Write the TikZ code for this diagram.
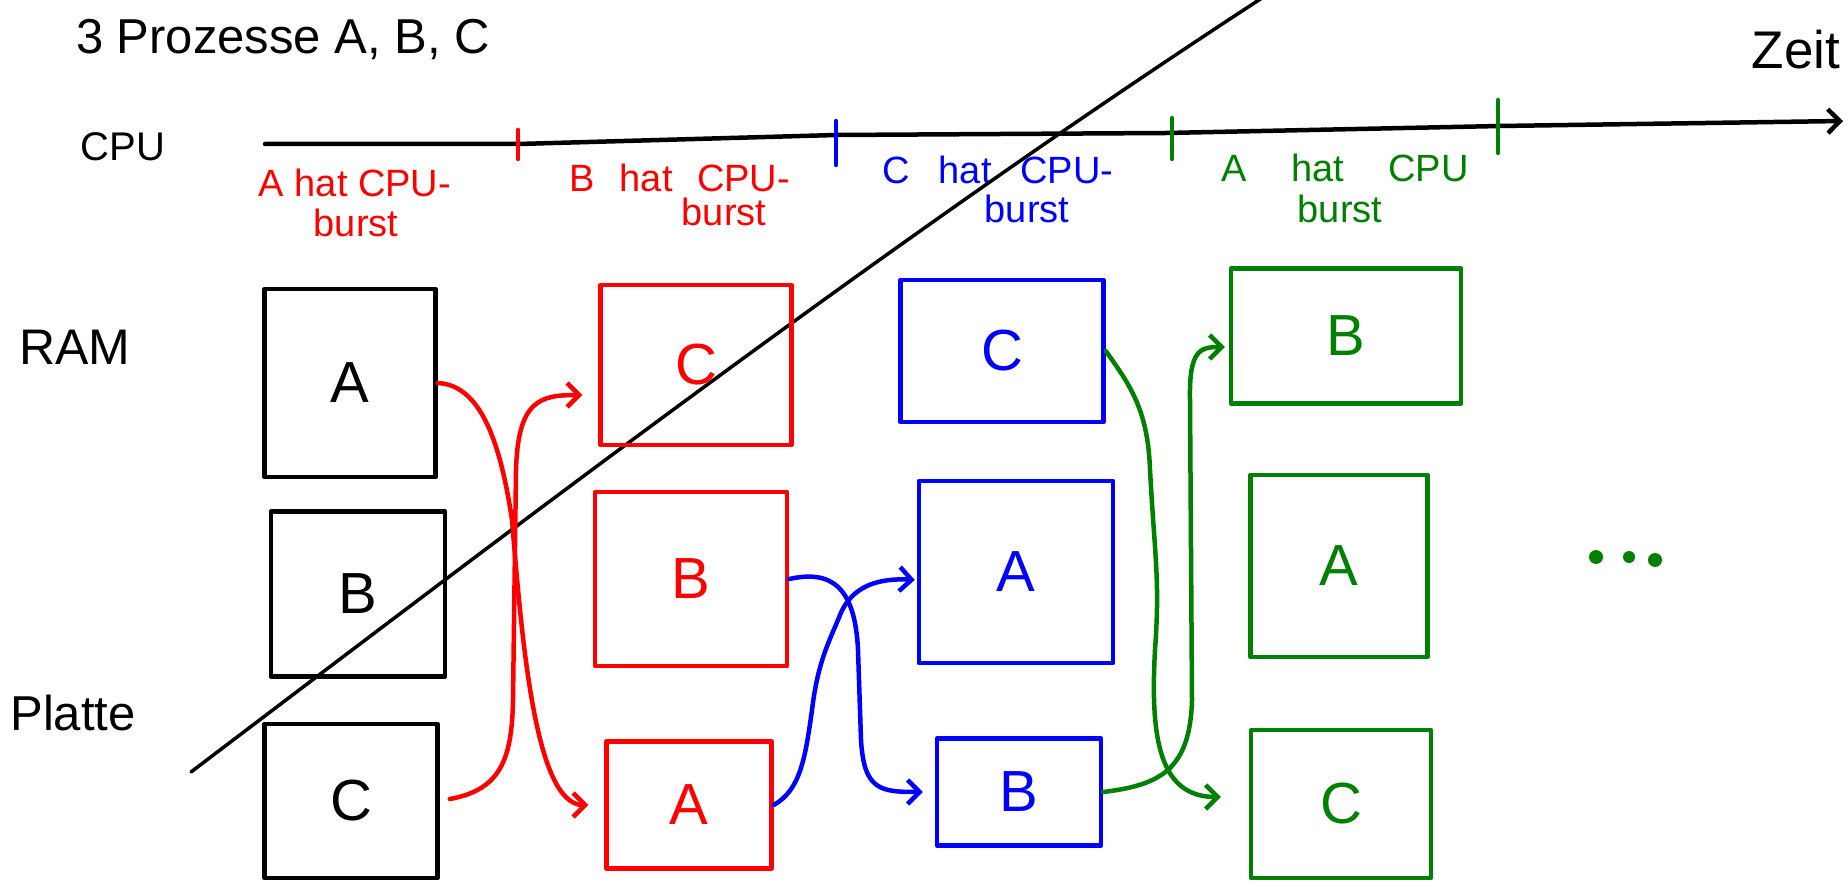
\documentclass[tikz,border=0pt]{standalone}
\usepackage{fontspec}
\setmainfont{Liberation Sans}
\usetikzlibrary{calc,arrows.meta}
\definecolor{hred}{RGB}{255,0,0}
\definecolor{hblue}{RGB}{0,0,255}
\definecolor{hgreen}{RGB}{0,128,0}
\begin{document}
\begin{tikzpicture}[x=1pt,y=-1pt,
 pen/.style={line width=4.5pt, line cap=round, line join=round},
 box/.style={pen, draw, inner sep=0pt, font=\fontsize{58}{58}\selectfont},
 conn/.style={pen, -{Straight Barb[length=12pt,width=24pt]}},
 lbl/.style={font=\fontsize{38}{40}\selectfont, inner sep=0pt},
 big/.style={font=\fontsize{50}{54}\selectfont, inner sep=0pt}
]
\useasboundingbox (0,0) rectangle (1847,882);

% titles and row labels
\node[big, font=\fontsize{49}{54}\selectfont] (title) at (283,40) {3 Prozesse A, B, C};
\node[big, font=\fontsize{53}{54}\selectfont] (zeit) at (1796,50) {Zeit};
\node[big, font=\fontsize{40}{44}\selectfont] (cpu) at (123,147) {CPU};
\node[big] (ram) at (75,347) {RAM};
\node[big, font=\fontsize{49}{54}\selectfont] (platte) at (73,713) {Platte};

% time axis
\coordinate (ax0) at (265,144);
\coordinate (ax1) at (1843,121);
\draw[conn] (ax0) -- (518,144) -- (836,135) -- (1166,133) -- (1500,126) -- (ax1);
\draw[pen,hred] (518,130) -- (518,159);
\draw[pen,hblue] (836,121) -- (836,165);
\draw[pen,hgreen] (1172,118) -- (1172,159);
\draw[pen,hgreen] (1498,100) -- (1498,153);

% burst labels
\node[lbl, text=hred] (la1) at (355,183) {A hat CPU-};
\node[lbl, text=hred] (la2) at (356,223) {burst};
\node[lbl, text=hred] (lb1) at (680,178) {B\hspace{14pt} hat\hspace{14pt} CPU-};
\node[lbl, text=hred] (lb2) at (724,212) {burst};
\node[lbl, text=hblue] (lc1) at (998,170) {C\hspace{18pt} hat\hspace{18pt} CPU-};
\node[lbl, text=hblue] (lc2) at (1027,209) {burst};
\node[lbl, text=hgreen] (ld1) at (1345,168) {A\hspace{34pt} hat\hspace{34pt} CPU};
\node[lbl, text=hgreen] (ld2) at (1340,209) {burst};

% diagonal separator
\coordinate (d0) at (191,772);
\coordinate (d1) at (1262,-2);
\draw[line width=3.5pt, line cap=round] (d0) .. controls (547,502) and (904,231) .. (d1);

% column 1 (black)
\node[box, draw=black, minimum width=171pt, minimum height=188pt] (a1) at (350,383) {A};
\node[box, draw=black, minimum width=174pt, minimum height=165pt] (b1) at (358,594) {B};
\node[box, draw=black, minimum width=173pt, minimum height=154pt] (c1) at (351,801) {C};

% column 2 (red)
\node[box, draw=hred, text=hred, minimum width=191pt, minimum height=160pt] (c2) at (696,365) {C};
\node[box, draw=hred, text=hred, minimum width=192pt, minimum height=174pt] (b2) at (691,579) {B};
\node[box, draw=hred, text=hred, minimum width=165pt, minimum height=127pt] (a2) at (689,805) {A};

% column 3 (blue)
\node[box, draw=hblue, text=hblue, minimum width=203pt, minimum height=142pt] (c3) at (1002,351) {C};
\node[box, draw=hblue, text=hblue, minimum width=194pt, minimum height=182pt] (a3) at (1016,572) {A};
\node[box, draw=hblue, text=hblue, minimum width=164pt, minimum height=107pt] (b3) at (1019,792) {B};

% column 4 (green)
\node[box, draw=hgreen, text=hgreen, minimum width=230pt, minimum height=135pt] (b4) at (1346,336) {B};
\node[box, draw=hgreen, text=hgreen, minimum width=177pt, minimum height=182pt] (a4) at (1339,566) {A};
\node[box, draw=hgreen, text=hgreen, minimum width=180pt, minimum height=148pt] (c4) at (1341,804) {C};

% dots
\fill[hgreen] (1596,557) circle (7pt);
\fill[hgreen] (1629,557) circle (6pt);
\fill[hgreen] (1655,560) circle (7pt);

% red connectors
\draw[conn, hred, shorten >=16pt] (a1.east) .. controls (480,385) and (500,440) .. (512,520)
  .. controls (522,640) and (535,805) .. (a2.west);
\draw[conn, hred, shorten >=16pt] ($(c1.east)+(10,-2)$) .. controls (500,790) and (512,760) .. (513,700)
  -- (516,470) .. controls (518,400) and (540,395) .. ($(c2.west)+(0,30)$);

% blue connectors
\draw[conn, hblue, shorten >=12pt] (b2.east) .. controls (830,570) and (855,585) .. (858,650)
  -- (861,740) .. controls (864,790) and (880,792) .. (b3.west);
\draw[conn, hblue, shorten >=2pt] (a2.east) .. controls (800,790) and (805,760) .. (812,710)
  .. controls (818,660) and (830,640) .. (840,615)
  .. controls (852,585) and (880,578) .. ($(a3.west)+(0,8)$);

% green connectors
\draw[conn, hgreen, shorten >=28pt] (c3.east) .. controls (1130,385) and (1148,410) .. (1150,470)
  .. controls (1155,560) and (1160,580) .. (1155,650)
  .. controls (1150,740) and (1160,797) .. ($(c4.west)+(0,-7)$);
\draw[conn, hgreen, shorten >=4pt] (b3.east) .. controls (1160,785) and (1190,770) .. (1192,700)
  -- (1190,400) .. controls (1189,350) and (1200,347) .. ($(b4.west)+(0,11)$);
\end{tikzpicture}
\end{document}
